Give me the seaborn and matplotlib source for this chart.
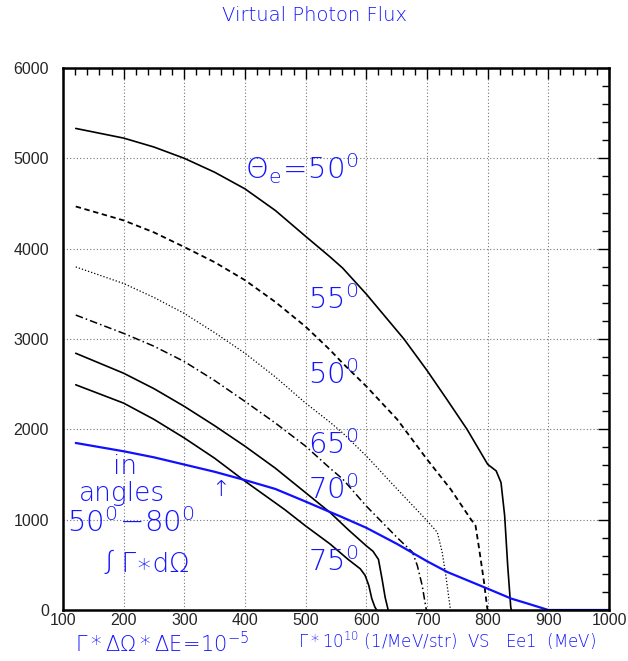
import numpy as np
import pandas as pd
import matplotlib
matplotlib.use("Agg")
import matplotlib.pyplot as plt
import seaborn as sns
from matplotlib.ticker import MultipleLocator

# ---- data ----
x50 = [121, 200, 250, 300, 350, 400, 450, 500, 540, 561, 600, 662, 700, 733, 766, 800, 814, 822, 828, 833, 838, 839]
y50 = [5331, 5224, 5125, 5000, 4846, 4662, 4423, 4136, 3910, 3785, 3497, 3000, 2652, 2329, 2000, 1613, 1540, 1411, 1044, 493, 34, 0]

x55 = [121, 200, 250, 300, 350, 400, 450, 500, 540, 561, 600, 651, 700, 739, 772, 780, 786, 794, 799, 800]
y55 = [4467, 4313, 4180, 4018, 3850, 3651, 3410, 3136, 2880, 2732, 2476, 2109, 1668, 1337, 1007, 934, 676, 309, 34, 0]

x60 = [121, 200, 250, 300, 350, 400, 450, 500, 540, 561, 600, 651, 700, 717, 725, 731, 738, 739]
y60 = [3798, 3614, 3460, 3283, 3070, 2842, 2580, 2290, 2079, 1960, 1705, 1337, 989, 860, 640, 383, 34, 0]

x65 = [121, 200, 250, 300, 350, 400, 450, 500, 540, 561, 600, 651, 676, 684, 692, 698, 699]
y65 = [3265, 3062, 2920, 2750, 2540, 2309, 2070, 1813, 1570, 1450, 1150, 800, 640, 493, 273, 34, 0]

x70 = [121, 200, 250, 300, 350, 400, 450, 500, 540, 570, 600, 611, 620, 626, 631, 636]
y70 = [2842, 2621, 2450, 2254, 2040, 1813, 1570, 1298, 1081, 890, 710, 650, 560, 340, 140, 0]

x75 = [121, 200, 250, 300, 350, 400, 465, 500, 540, 570, 590, 598, 604, 609, 614, 617]
y75 = [2493, 2290, 2110, 1904, 1680, 1426, 1114, 930, 732, 560, 456, 383, 273, 126, 34, 0]

xint = [121, 200, 250, 300, 350, 400, 450, 500, 540, 556, 600, 651, 700, 734, 800, 839, 866, 900, 1000]
yint = [1849, 1757, 1690, 1610, 1530, 1438, 1340, 1200, 1085, 1040, 910, 730, 540, 419, 236, 126, 71, 0, 0]

xticks = [100, 200, 300, 400, 500, 600, 700, 800, 900, 1000]
yticks = [0, 1000, 2000, 3000, 4000, 5000, 6000]
angle_labels = ["55", "50", "65", "70", "75"]

BLUE = "#1414ff"
FONT = ["DejaVu Sans", "Noto Sans CJK JP", "Noto Sans"]

sns.set_style("white")
plt.rcParams["font.family"] = FONT
plt.rcParams["font.weight"] = "light"
plt.rcParams["mathtext.fontset"] = "custom"
plt.rcParams["mathtext.rm"] = "DejaVu Sans:weight=light"
plt.rcParams["mathtext.it"] = "DejaVu Sans:weight=light"
plt.rcParams["mathtext.bf"] = "DejaVu Sans:bold"
plt.rcParams["mathtext.sf"] = "DejaVu Sans:weight=light"

fig = plt.figure(figsize=(6.28, 6.61), dpi=100)
ax = fig.add_axes([63/628, 1-610/661, (609-63)/628, (610-68)/661])

curves = [
    (x50, y50, "-", 1.2, "black"),
    (x55, y55, (0, (3, 2)), 1.3, "black"),
    (x60, y60, (0, (1, 1.6)), 0.9, "black"),
    (x65, y65, (0, (5, 2, 1, 2)), 1.1, "black"),
    (x70, y70, "-", 1.2, "black"),
    (x75, y75, "-", 1.2, "black"),
    (xint, yint, "-", 1.6, "#1010ff"),
]
for xs, ys, ls, lw, c in curves:
    df = pd.DataFrame({"x": xs, "y": ys})
    sns.lineplot(data=df, x="x", y="y", ax=ax, color=c, linewidth=lw,
                 linestyle=ls, sort=False, estimator=None)

ax.set_xlim(100, 1000)
ax.set_ylim(0, 6000)
ax.set_xticks(xticks)
ax.set_yticks(yticks)
ax.xaxis.set_minor_locator(MultipleLocator(20))
ax.yaxis.set_minor_locator(MultipleLocator(200))
ax.set_xlabel("")
ax.set_ylabel("")
ax.tick_params(which="both", direction="in", top=True, right=True, color="black")
ax.tick_params(which="major", length=8, width=1, labelsize=11.5)
ax.tick_params(axis="x", which="major", pad=2)
ax.tick_params(axis="y", which="major", pad=10)
ax.tick_params(which="minor", length=5, width=1)
for lab in ax.get_xticklabels() + ax.get_yticklabels():
    lab.set_fontfamily(["Liberation Sans", "DejaVu Sans"])
    lab.set_fontweight("normal")
ax.grid(True, which="major", color="#777777", linestyle=(0, (1, 2)), linewidth=0.8)
for s in ax.spines.values():
    s.set_linewidth(1.8)
    s.set_color("black")

# annotations
ax.text(400, 4890, r"$\Theta_e\!=\!50^0$", color=BLUE, fontsize=21, ha="left", va="center")
ys_lab = [3430, 2600, 1830, 1330, 530]
for lab, yy in zip(angle_labels, ys_lab):
    ax.text(504, yy, r"$" + lab + r"^0$", color=BLUE, fontsize=21, ha="left", va="center")

ax.text(202, 1585, "in", color=BLUE, fontsize=19, ha="center", va="center")
ax.text(197, 1290, "angles", color=BLUE, fontsize=19, ha="center", va="center")
ax.text(212, 963, r"$50^0\!-\!80^0$", color=BLUE, fontsize=21, ha="center", va="center")
ax.text(232, 500, "∫Γ∗dΩ", color=BLUE, fontsize=19, ha="center", va="center")
ax.text(359, 1330, "↑", color=BLUE, fontsize=16, ha="center", va="center")

fig.text(0.5, 0.977, "Virtual Photon Flux", color=BLUE, fontsize=14, ha="center", va="center")
fig.text(75/628, 1-644/661, r"$\Gamma*\Delta\Omega*\Delta E\!=\!10^{-5}$", color=BLUE,
         fontsize=15, ha="left", va="center")
fig.text(298/628, 1-641/661, r"$\Gamma*10^{10}$ (1/MeV/str)  VS   Ee1  (MeV)", color=BLUE,
         fontsize=12, ha="left", va="center")

fig.savefig("out.png", dpi=100)
